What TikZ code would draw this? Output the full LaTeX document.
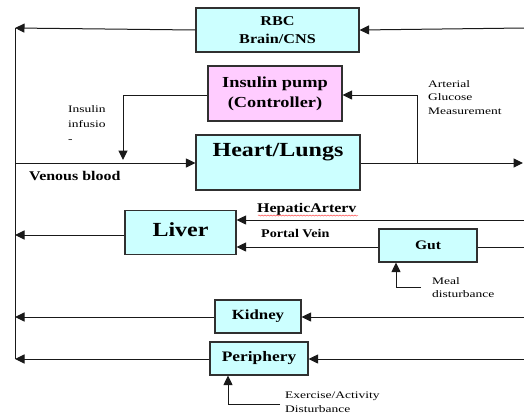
\documentclass[tikz,border=0pt]{standalone}
\usepackage{fontspec}
\setmainfont[FakeStretch=1.2]{Liberation Serif}
\newfontfamily\lblfont[FakeStretch=1.35]{Liberation Serif}
\usetikzlibrary{arrows.meta,decorations.pathmorphing}
\definecolor{boxcyan}{HTML}{CCFFFF}
\definecolor{boxpink}{HTML}{FFCCFF}
\definecolor{edge}{HTML}{303030}
\begin{document}
\begin{tikzpicture}[x=1pt,y=-1pt,
  blk/.style={draw=edge,line width=1.1pt,fill=boxcyan,inner sep=0pt},
  pmp/.style={blk,fill=boxpink},
  conn/.style={draw=black!90,line width=1pt},
  arr/.style={conn,-{Triangle[length=9.5pt,width=9pt]}},
  lbl/.style={inner sep=0pt,align=left,anchor=north west,font=\lblfont\fontsize{10}{14}\selectfont}]
\useasboundingbox (0,0) rectangle (524,416);
% boxes
\node[blk,minimum width=163pt,minimum height=44pt,align=center,font=\bfseries\fontsize{13.5}{18}\selectfont] (rbc) at (277.5,30) {RBC\\Brain/CNS};
\node[pmp,minimum width=134pt,minimum height=55pt,align=center,font=\bfseries\fontsize{15.3}{20}\selectfont] (pump) at (275,93.5) {Insulin pump\\(Controller)};
\node[blk,minimum width=164pt,minimum height=55pt] (heart) at (278,162.5) {};
\node[inner sep=0pt,font=\bfseries\fontsize{20}{22}\selectfont] (heartt) at (278,152.5) {Heart/Lungs};
\node[blk,minimum width=111pt,minimum height=44pt] (liver) at (180.5,232.5) {};
\node[inner sep=0pt,font=\bfseries\fontsize{20}{22}\selectfont] (livert) at (180.5,229.5) {Liver};
\node[blk,minimum width=98pt,minimum height=33pt,font=\bfseries\fontsize{13}{14}\selectfont] (gut) at (428,245.5) {Gut};
\node[blk,minimum width=86pt,minimum height=33pt,font=\bfseries\fontsize{14}{15}\selectfont] (kidney) at (258,316.5) {Kidney};
\node[blk,minimum width=98pt,minimum height=33pt,font=\bfseries\fontsize{14.5}{15}\selectfont] (peri) at (259,358.5) {Periphery};
% coordinates
\coordinate (lt) at (15,28);
\coordinate (lb) at (15,359);
\coordinate (rbcR) at (524,28);
\coordinate (rbcL) at (15,28);
\coordinate (venL) at (15,163);
\coordinate (heartR) at (523,163);
\coordinate (tap) at (417,163);
\coordinate (infx) at (123,95);
\coordinate (infy) at (123,160);
\coordinate (hepR) at (524,220);
\coordinate (livL) at (15,235);
\coordinate (gutR) at (524,247);
\coordinate (kidR) at (524,317);
\coordinate (kidL) at (15,317);
\coordinate (perR) at (524,359);
\coordinate (perL) at (15,359);
\coordinate (mealB) at (396,287);
\coordinate (mealE) at (421,287);
\coordinate (exB) at (228,404);
\coordinate (exE) at (280,404);
% left trunk
\draw[conn] (lt) -- (lb);
% RBC
\draw[arr] (rbcR) -- (rbc.east);
\draw[arr] (rbc.west) -- (rbcL);
% heart
\draw[arr] (venL) -- (heart.west |- venL);
\draw[arr] (heart.east |- heartR) -- (heartR);
% controller loop
\draw[arr] (tap) |- (pump.east |- infx);
\draw[arr] (pump.west |- infx) -- (infx) -- (infy);
% liver
\draw[arr] (hepR) -- (liver.east |- hepR);
\draw[arr] (gut.west |- 0,247) -- (liver.east |- 0,247);
\draw[arr] (liver.west |- livL) -- (livL);
\draw[conn] (gut.east |- gutR) -- (gutR);
\draw[arr] (mealE) -- (mealB) -- (gut.south -| mealB);
% kidney
\draw[arr] (kidR) -- (kidney.east |- kidR);
\draw[arr] (kidney.west |- kidL) -- (kidL);
% periphery
\draw[arr] (perR) -- (peri.east |- perR);
\draw[arr] (peri.west |- perL) -- (perL);
\draw[arr] (exE) -- (exB) -- (peri.south -| exB);
% labels
\node[lbl,font=\lblfont\fontsize{10}{13.5}\selectfont] (agm) at (428,80) {Arterial\\Glucose\\Measurement};
\node[lbl,font=\lblfont\fontsize{10}{15}\selectfont] (inf) at (68,105) {Insulin\\infusio\\-};
\node[lbl,font=\bfseries\fontsize{13.3}{14}\selectfont] (ven) at (29,171) {Venous blood};
\node[lbl,font=\bfseries\fontsize{13.3}{14}\selectfont] (hep) at (257,203) {HepaticArterv};
\draw[red!80,line width=0.4pt,decorate,decoration={snake,amplitude=0.6pt,segment length=3pt}] (258,215.5) -- (358,215.5);
\node[lbl,font=\bfseries\fontsize{11.8}{13}\selectfont] (pv) at (261,229) {Portal Vein};
\node[lbl,font=\lblfont\fontsize{10}{13}\selectfont] (meal) at (432,277) {Meal\\disturbance};
\node[lbl,font=\lblfont\fontsize{10}{14}\selectfont] (ex) at (285,392) {Exercise/Activity\\Disturbance};
\end{tikzpicture}
\end{document}
